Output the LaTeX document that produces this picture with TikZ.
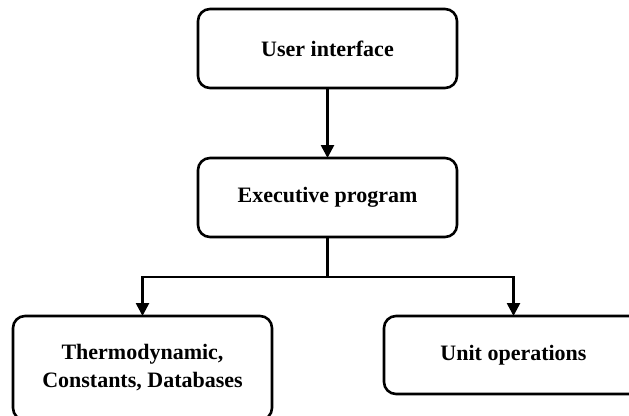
\documentclass[tikz,border=0pt]{standalone}
\usepackage{fontspec}
\setmainfont{Liberation Serif}
\usetikzlibrary{arrows.meta}
\begin{document}
\begin{tikzpicture}[x=1pt,y=-1pt,
  box/.style={draw=black,line width=2.6pt,rounded corners=12pt,minimum width=259pt,
    inner sep=0pt,outer sep=0pt,align=center,
    font=\fontsize{22}{28}\selectfont\bfseries},
  arr/.style={line width=2.6pt,-{Triangle[width=13pt,length=13pt]}},
  link/.style={line width=2.6pt}]
\useasboundingbox (0,0) rectangle (629,415);
\clip (0,0) rectangle (629,415);
\fill[white] (0,0) rectangle (629,415);
\node[box,minimum height=79pt] (ui) at (327.5,48.5) {User interface};
\node[box,minimum height=79pt] (exec) at (327.5,197.5) {Executive program};
\node[box,minimum height=104pt] (thermo) at (142.5,368) {Thermodynamic,\\Constants, Databases};
\node[box,minimum height=78pt] (unit) at (513.5,355) {Unit operations};
\coordinate (j) at (327.5,277);
\draw[arr] (ui) -- (exec);
\draw[link] (exec.south) -- (j);
\draw[arr] (j) -| (thermo.north);
\draw[arr] (j) -| (unit.north);
\end{tikzpicture}
\end{document}
